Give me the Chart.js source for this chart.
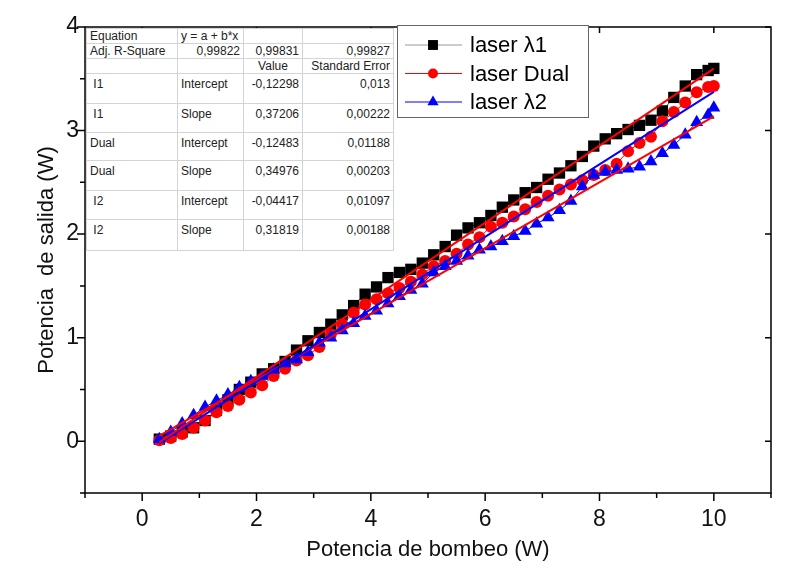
<!DOCTYPE html>
<html>
<head>
<meta charset="utf-8">
<script src="https://cdn.jsdelivr.net/npm/chart.js@4.4.0/dist/chart.umd.min.js"></script>
<style>
    html, body { margin: 0; padding: 0; background: #fff; }
    #wrap { position: relative; width: 786px; height: 574px; }
    #fitTable {
        position: absolute; left: 86px; top: 28px;
        border-collapse: collapse; background: #fff; table-layout: fixed;
        font: 12px "Liberation Sans", Arial, sans-serif; color: #222;
        border-right: 1px solid #555; border-bottom: 1px solid #555;
    }
    #fitTable td { border: 1px solid #d4d4d4; padding: 0 3px; vertical-align: top; white-space: pre; overflow: hidden; }
    #fitTable tr.d td { padding-top: 3px; }
    #fitTable td.r { text-align: right; }
    #fitTable td.c { text-align: center; }
</style>
</head>
<body>
<div id="wrap">
    <canvas id="chart" width="786" height="574"></canvas>
    <table id="fitTable">
        <colgroup><col style="width:91px"><col style="width:66px"><col style="width:59px"><col style="width:91px"></colgroup>
        <tbody id="fitBody"></tbody>
    </table>
</div>
<script>
// pump power (W), shared by the three series
const xPump = [0.3, 0.5, 0.7, 0.9, 1.1, 1.3, 1.5, 1.7, 1.9, 2.1, 2.3, 2.5, 2.7, 2.9, 3.1, 3.3, 3.5,
    3.7, 3.9, 4.1, 4.3, 4.5, 4.7, 4.9, 5.1, 5.3, 5.5, 5.7, 5.9, 6.1, 6.3, 6.5, 6.7, 6.9,
    7.1, 7.3, 7.5, 7.7, 7.9, 8.1, 8.3, 8.5, 8.7, 8.9, 9.1, 9.3, 9.5, 9.7, 9.9, 10.0];

// output power (W)
const yLaser1 = [0.02, 0.05, 0.09, 0.13, 0.20, 0.30, 0.40, 0.50, 0.57, 0.65, 0.70, 0.77, 0.88, 0.97, 1.05, 1.13, 1.22,
    1.31, 1.42, 1.49, 1.58, 1.63, 1.66, 1.72, 1.80, 1.88, 1.99, 2.06, 2.11, 2.18, 2.26, 2.33, 2.40, 2.45,
    2.53, 2.59, 2.66, 2.75, 2.85, 2.92, 2.97, 3.01, 3.05, 3.10, 3.19, 3.32, 3.43, 3.54, 3.58, 3.60];
const yDual = [0.01, 0.03, 0.07, 0.13, 0.20, 0.28, 0.34, 0.40, 0.47, 0.54, 0.63, 0.70, 0.78, 0.83, 0.91, 1.03, 1.13,
    1.24, 1.32, 1.37, 1.43, 1.48, 1.54, 1.61, 1.69, 1.74, 1.81, 1.90, 1.97, 2.07, 2.11, 2.17, 2.24, 2.31,
    2.37, 2.43, 2.48, 2.52, 2.57, 2.62, 2.68, 2.80, 2.88, 2.94, 3.09, 3.18, 3.27, 3.37, 3.42, 3.43];
const yLaser2 = [0.02, 0.09, 0.17, 0.25, 0.33, 0.39, 0.45, 0.52, 0.58, 0.63, 0.69, 0.75, 0.79, 0.86, 0.95, 1.00, 1.07,
    1.14, 1.21, 1.26, 1.33, 1.40, 1.46, 1.52, 1.63, 1.69, 1.74, 1.79, 1.85, 1.88, 1.93, 1.98, 2.03, 2.10,
    2.16, 2.23, 2.32, 2.46, 2.57, 2.60, 2.62, 2.63, 2.65, 2.70, 2.78, 2.86, 2.96, 3.08, 3.15, 3.22];

// linear fits y = a + b*x (from the table)
const fitNames = ['I1', 'Dual', 'I2'];
const fitIntercept = [-0.12298, -0.12483, -0.04417];
const fitInterceptErr = [0.013, 0.01188, 0.01097];
const fitSlope = [0.37206, 0.34976, 0.31819];
const fitSlopeErr = [0.00222, 0.00203, 0.00188];
const adjR2 = [0.99822, 0.99831, 0.99827];
const fitRange = [0.3, 10];

const seriesLabels = ['laser \u03bb1', 'laser Dual', 'laser \u03bb2'];

const comma = v => String(v).replace('.', ',');

// table
const body = document.getElementById('fitBody');
const addRow = (cells, h, cls) => {
    const tr = document.createElement('tr');
    tr.style.height = h + 'px';
    if (cls) tr.className = cls;
    cells.forEach(([txt, c]) => {
        const td = document.createElement('td');
        td.textContent = txt;
        if (c) td.className = c;
        tr.appendChild(td);
    });
    body.appendChild(tr);
};
addRow([['Equation'], ['y = a + b*x'], [''], ['']], 15);
addRow([['Adj. R-Square'], [comma(adjR2[0]), 'r'], [comma(adjR2[1]), 'r'], [comma(adjR2[2]), 'r']], 14);
addRow([[''], [''], ['Value', 'c'], ['Standard Error', 'r']], 14);
const dataH = [30, 29, 28, 30, 29, 31];
fitNames.forEach((n, i) => {
    const pad = n === 'Dual' ? n : ' ' + n;
    addRow([[pad], ['Intercept'], [comma(fitIntercept[i]), 'r'], [comma(fitInterceptErr[i]), 'r']], dataH[i * 2], 'd');
    addRow([[pad], ['Slope'], [comma(fitSlope[i]), 'r'], [comma(fitSlopeErr[i]), 'r']], dataH[i * 2 + 1], 'd');
});

const pts = ys => xPump.map((x, i) => ({ x, y: ys[i] }));
const fitLine = i => fitRange.map(x => ({ x, y: fitIntercept[i] + fitSlope[i] * x }));

const markerStyle = [
    { style: 'rect', color: '#000000', line: '#444444', radius: 8 },
    { style: 'circle', color: '#ff0000', line: '#ff0000', radius: 6 },
    { style: 'triangle', color: '#0000ff', line: '#0000ff', radius: 7.5 }
];

const frameAndLegend = {
    id: 'frameAndLegend',
    afterDraw(chart) {
        const { ctx, chartArea: a, scales: { x, y } } = chart;
        ctx.save();
        ctx.strokeStyle = '#000';
        ctx.lineWidth = 1.5;
        ctx.strokeRect(a.left, a.top, a.right - a.left, a.bottom - a.top);
        ctx.beginPath();
        x.ticks.forEach(t => {
            const px = x.getPixelForValue(t.value);
            const major = t.value % 2 === 0 && t.value >= 0 && t.value <= 10;
            ctx.moveTo(px, a.bottom);
            ctx.lineTo(px, a.bottom + (major ? 8 : 5));
            if (major) { ctx.moveTo(px, a.top); ctx.lineTo(px, a.top + 6); }
        });
        y.ticks.forEach(t => {
            const py = y.getPixelForValue(t.value);
            const major = Number.isInteger(t.value);
            ctx.moveTo(a.left, py);
            ctx.lineTo(a.left - (major ? 8 : 5), py);
            if (major) { ctx.moveTo(a.right, py); ctx.lineTo(a.right - 6, py); }
        });
        ctx.stroke();

        // legend box
        const bx = 397, by = 25, bw = 191, bh = 92;
        ctx.fillStyle = '#fff';
        ctx.fillRect(bx, by, bw, bh);
        ctx.strokeStyle = '#666';
        ctx.lineWidth = 1;
        ctx.strokeRect(bx + 0.5, by + 0.5, bw, bh);
        ctx.font = '22px "Liberation Sans", Arial, sans-serif';
        ctx.textBaseline = 'middle';
        seriesLabels.forEach((lab, i) => {
            const ly = by + 20 + i * 28.5;
            const m = markerStyle[i];
            ctx.strokeStyle = i === 0 ? '#999' : m.line;
            ctx.lineWidth = 1;
            ctx.beginPath();
            ctx.moveTo(405, ly);
            ctx.lineTo(462, ly);
            ctx.stroke();
            ctx.fillStyle = m.color;
            ctx.strokeStyle = m.color;
            Chart.helpers.drawPoint(ctx, { pointStyle: m.style, radius: m.radius - 1, borderWidth: 0, rotation: 0 }, 433, ly);
            ctx.fillStyle = '#000';
            ctx.fillText(lab, 470, ly + 1);
        });
        ctx.restore();
    }
};

const axisFont = { family: '"Liberation Sans", Arial, sans-serif', size: 23 };

new Chart(document.getElementById('chart'), {
    type: 'line',
    data: {
        datasets: [
            { label: 'fit I1', data: fitLine(0), borderColor: '#ff0000', borderWidth: 2, pointRadius: 0, order: 0 },
            { label: 'fit Dual', data: fitLine(1), borderColor: '#0000ff', borderWidth: 2, pointRadius: 0, order: 0 },
            { label: 'fit I2', data: fitLine(2), borderColor: '#ff0000', borderWidth: 2, pointRadius: 0, order: 0 },
            ...[yLaser1, yDual, yLaser2].map((ys, i) => ({
                label: seriesLabels[i],
                data: pts(ys),
                borderColor: markerStyle[i].line,
                borderWidth: 1,
                pointStyle: markerStyle[i].style,
                pointRadius: markerStyle[i].radius,
                pointBackgroundColor: markerStyle[i].color,
                pointBorderColor: markerStyle[i].color,
                pointBorderWidth: 0,
                order: 3 - i
            }))
        ]
    },
    options: {
        responsive: false,
        animation: false,
        layout: { padding: { top: 27, right: 15, left: 0, bottom: 0 } },
        plugins: { legend: { display: false }, tooltip: { enabled: false } },
        scales: {
            x: {
                type: 'linear', min: -1, max: 11,
                afterFit: s => { s.height = 81; },
                grid: { display: false, drawTicks: false },
                border: { display: false },
                ticks: {
                    stepSize: 1, padding: 13, color: '#111', maxRotation: 0, autoSkip: false,
                    font: axisFont,
                    callback: v => (v % 2 === 0 && v >= 0 && v <= 10) ? String(v) : ''
                },
                title: {
                    display: true, text: 'Potencia de bombeo (W)', color: '#111',
                    font: { family: '"Liberation Sans", Arial, sans-serif', size: 22 },
                    padding: { top: 0, bottom: 11 }
                }
            },
            y: {
                type: 'linear', min: -0.5, max: 4,
                afterFit: s => { s.width = 85; },
                grid: { display: false, drawTicks: false },
                border: { display: false },
                ticks: {
                    stepSize: 0.5, padding: 6, color: '#111', autoSkip: false,
                    font: axisFont,
                    callback: v => Number.isInteger(v) ? String(v) : ''
                },
                title: {
                    display: true, text: 'Potencia  de salida (W)', color: '#111',
                    font: { family: '"Liberation Sans", Arial, sans-serif', size: 22 },
                    padding: { top: 34, bottom: 0 }
                }
            }
        }
    },
    plugins: [frameAndLegend]
});
</script>
</body>
</html>
